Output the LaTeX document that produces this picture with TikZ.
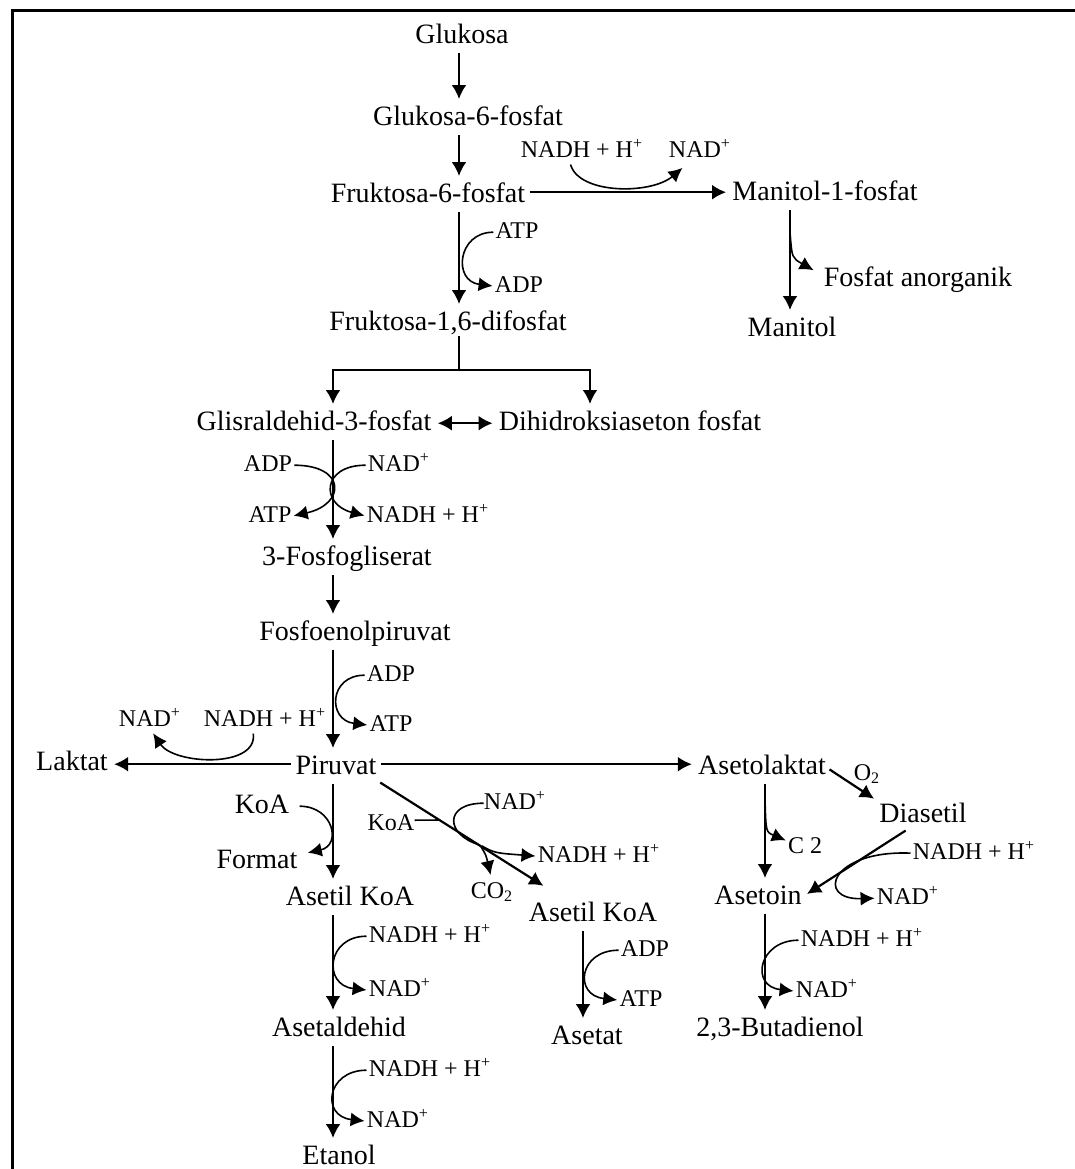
\documentclass[tikz,border=0pt]{standalone}
\usepackage{fontspec}
\setmainfont{Liberation Serif}
\usetikzlibrary{arrows.meta}

\begin{document}
\begin{tikzpicture}[x=0.5pt,y=-0.5pt,
			met/.style={anchor=base,inner sep=0pt,font=\fontsize{14}{16}\selectfont,text height=9.8pt,text depth=3pt},
			cof/.style={anchor=base,inner sep=0pt,font=\fontsize{12}{14}\selectfont,text height=8.4pt,text depth=2.6pt},
			conv/.style={line width=1.1pt,-{Latex[length=7pt,width=7.5pt]},shorten <=2pt,shorten >=3pt},
			side/.style={line width=0.8pt,-{Latex[length=7pt,width=7pt]},shorten <=1pt,shorten >=1pt},
			twin/.style={line width=1.1pt,{Latex[length=7pt,width=7.5pt]}-{Latex[length=7pt,width=7.5pt]},shorten <=3pt,shorten >=3pt}]
			\useasboundingbox (0,0) rectangle (1075,1169);
			\draw[line width=1.5pt] (12,1169) -- (12,10) -- (1075,10);
			\coordinate (colA) at (459,0);
			\coordinate (colB) at (333,0);
			\coordinate (colR) at (590,0);
			\coordinate (colC) at (583,0);
			\coordinate (colD) at (765,0);
			\coordinate (colM) at (790,0);
			\node [met] (glu) 	at (462,43) 	{Glukosa};
			\node [met] (g6p) 	at (468,125) 	{Glukosa-6-fosfat};
			\node [met] (f6p) 	at (428,202) 	{Fruktosa-6-fosfat};
			\node [met] (f16) 	at (448,330) 	{Fruktosa-1,6-difosfat};
				\node [cof] (nadhA) at (582,157) 	{NADH + H\textsuperscript{+}};
				\node [cof] (nadA) 	at (700,157) 	{NAD\textsuperscript{+}};
				\node [cof] (atpA) 	at (517,238) 	{ATP};
				\node [cof] (adpA) 	at (519,292) 	{ADP};
			\node [met] (m1p) 	at (825,200) 	{Manitol-1-fosfat};
				\node [met] (fan) 	at (918,286) 	{Fosfat anorganik};
			\node [met] (man) 	at (792,336) 	{Manitol};
			\node [met] (g3p) 	at (314,430) 	{Glisraldehid-3-fosfat};
			\node [met] (dhap) 	at (630,430) 	{Dihidroksiaseton fosfat};
				\node [cof] (adpB) 	at (268,471) 	{ADP};
				\node [cof] (nadB) 	at (399,471) 	{NAD\textsuperscript{+}};
				\node [cof] (atpB) 	at (270,522) 	{ATP};
				\node [cof] (nadhB) at (428,522) 	{NADH + H\textsuperscript{+}};
			\node [met] (pga) 	at (347,565) 	{3-Fosfogliserat};
			\node [met] (pep) 	at (355,640) 	{Fosfoenolpiruvat};
				\node [cof] (adpC) 	at (391,681) 	{ADP};
				\node [cof] (atpC) 	at (391,731) 	{ATP};
				\node [cof] (nadC) 	at (150,726) 	{NAD\textsuperscript{+}};
				\node [cof] (nadhC) at (265,726) 	{NADH + H\textsuperscript{+}};
			\node [met] (pyr) 	at (336,774) 	{Piruvat};
			\node [met] (lak) 	at (72,770) 	{Laktat};
				\node [met] (koaA) 	at (262,813) 	{KoA};
			\node [met] (fmt) 	at (257,868) 	{Format};
				\node [cof] (koaB) 	at (391,830) 	{KoA};
				\node [cof] (nadD) 	at (515,809) 	{NAD\textsuperscript{+}};
				\node [cof] (nadhD) at (599,862) 	{NADH + H\textsuperscript{+}};
				\node [cof] (co2) 	at (492,898) 	{CO\textsubscript{2}};
			\node [met] (acoaA) at (350,905) 	{Asetil KoA};
			\node [met] (acoaB) at (593,921) 	{Asetil KoA};
				\node [cof] (nadhE) at (430,942) 	{NADH + H\textsuperscript{+}};
				\node [cof] (nadE) 	at (400,996) 	{NAD\textsuperscript{+}};
			\node [met] (ald) 	at (339,1036) 	{Asetaldehid};
				\node [cof] (nadhH) at (430,1076) 	{NADH + H\textsuperscript{+}};
				\node [cof] (nadH) 	at (398,1127) 	{NAD\textsuperscript{+}};
			\node [met] (eth) 	at (339,1164) 	{Etanol};
				\node [cof] (adpD) 	at (645,956) 	{ADP};
				\node [cof] (atpD) 	at (641,1006) 	{ATP};
			\node [met] (ace) 	at (587,1044) 	{Asetat};
			\node [met] (alak) 	at (762,774) 	{Asetolaktat};
				\node [cof] (oxy) 	at (867,780) 	{O\textsubscript{2}};
			\node [met] (dia) 	at (923,822) 	{Diasetil};
				\node [cof] (c2) 	at (805,853) 	{C 2};
				\node [cof] (nadhF) at (974,859) 	{NADH + H\textsuperscript{+}};
				\node [cof] (nadF) 	at (908,904) 	{NAD\textsuperscript{+}};
			\node [met] (asn) 	at (758,904) 	{Asetoin};
				\node [cof] (nadhG) at (862,946) 	{NADH + H\textsuperscript{+}};
				\node [cof] (nadG) 	at (827,997) 	{NAD\textsuperscript{+}};
			\node [met] (btd) 	at (780,1036) 	{2,3-Butadienol};
			\draw [conv] (glu.south -| colA) -- (g6p.north -| colA);
			\draw [conv] (g6p.south -| colA) -- (f6p.north -| colA);
			\draw [conv] (f6p.south -| colA) -- (f16.north -| colA);
				\draw [side] (atpA.west) .. controls +(-38,0) and +(-42,-5) .. (adpA.west);
			\draw [conv] ([yshift=1.5pt]f6p.east) -- ([yshift=1.5pt]f6p.east -| m1p.west);
				\draw [side] ([xshift=-6pt]nadhA.south) .. controls +(9,32) and +(-33,28) .. ([xshift=-8pt,yshift=-2pt]nadA.south);
			\draw [conv] (m1p.south -| colM) -- (man.north -| colM);
				\coordinate (mbr) at (790,232);
				\draw [side] (mbr) .. controls (792,258) .. ([xshift=-4pt,yshift=4pt]fan.west);
			\coordinate (split) at (459,370);
			\draw [line width=1.1pt] (f16.south -| split) -- (split);
			\draw [conv,shorten <=0pt] (split) -| (g3p.north -| colB);
			\draw [conv,shorten <=0pt] (split) -| (dhap.north -| colR);
			\draw [twin] (g3p.east) -- (g3p.east -| dhap.west);
			\draw [conv] (g3p.south -| colB) -- (pga.north -| colB);
				\draw [side] (adpB.east) .. controls +(54,0) and +(54,-12) .. (atpB.east);
				\draw [side] (nadB.west) .. controls +(-46,0) and +(-46,-12) .. (nadhB.west);
			\draw [conv] (pga.south -| colB) -- (pep.north -| colB);
			\draw [conv] (pep.south -| colB) -- (pyr.north -| colB);
				\draw [side] (adpC.west) .. controls +(-38,0) and +(-42,-5) .. (atpC.west);
			\draw [conv] ([yshift=1.5pt]pyr.west) -- ([yshift=1.5pt]pyr.west -| lak.east);
				\draw [side] ([xshift=-6pt]nadhC.south) .. controls +(5,37) and +(22,33) .. ([xshift=1pt]nadC.south);
			\draw [conv] (pyr.south -| colB) -- (acoaA.north -| colB);
				\draw [side] ([xshift=4pt]koaA.east) .. controls +(36,0) and +(36,-8) .. ([xshift=4pt,yshift=4pt]fmt.east);
			\draw [conv] ([yshift=1.5pt]pyr.east) -- ([yshift=1.5pt]pyr.east -| alak.west);
			\draw [conv] (pyr.south east) -- ([xshift=10pt,yshift=6pt]acoaB.north west);
				\coordinate (kjoin) at (440,820);
				\draw [line width=0.8pt] ([yshift=2pt]koaB.east) -- (kjoin);
				\coordinate (jn) at (480,845);
				\draw [line width=0.8pt] (nadD.west) .. controls +(-40,0) and +(-35,-10) .. (jn);
				\draw [side] (jn) .. controls +(15,8) .. (nadhD.west);
				\draw [side,shorten >=3pt] (jn) .. controls +(6,10) .. (co2.north);
			\draw [conv] (acoaB.south -| colC) -- (ace.north -| colC);
				\draw [side] (adpD.west) .. controls +(-42,0) and +(-46,-5) .. (atpD.west);
			\draw [conv] (acoaA.south -| colB) -- (ald.north -| colB);
				\draw [side] (nadhE.west) .. controls +(-42,0) and +(-46,-5) .. (nadE.west);
			\draw [conv] (ald.south -| colB) -- (eth.north -| colB);
				\draw [side] (nadhH.west) .. controls +(-42,0) and +(-46,-5) .. (nadH.west);
			\draw [conv] (alak.south -| colD) -- (asn.north -| colD);
				\coordinate (c2br) at (765,800);
				\draw [side] (c2br) .. controls (766,832) .. ([yshift=3pt]c2.west);
			\draw [conv] (alak.east) -- (dia.north west);
			\draw [conv] ([xshift=-7pt]dia.south) -- (asn.east);
				\draw [side] (nadhF.west) .. controls (830,850) and (815,900) .. (nadF.west);
			\draw [conv] (asn.south -| colD) -- (btd.north -| colD);
				\draw [side] (nadhG.west) .. controls +(-42,0) and +(-46,-5) .. (nadG.west);
		\end{tikzpicture}
\end{document}
